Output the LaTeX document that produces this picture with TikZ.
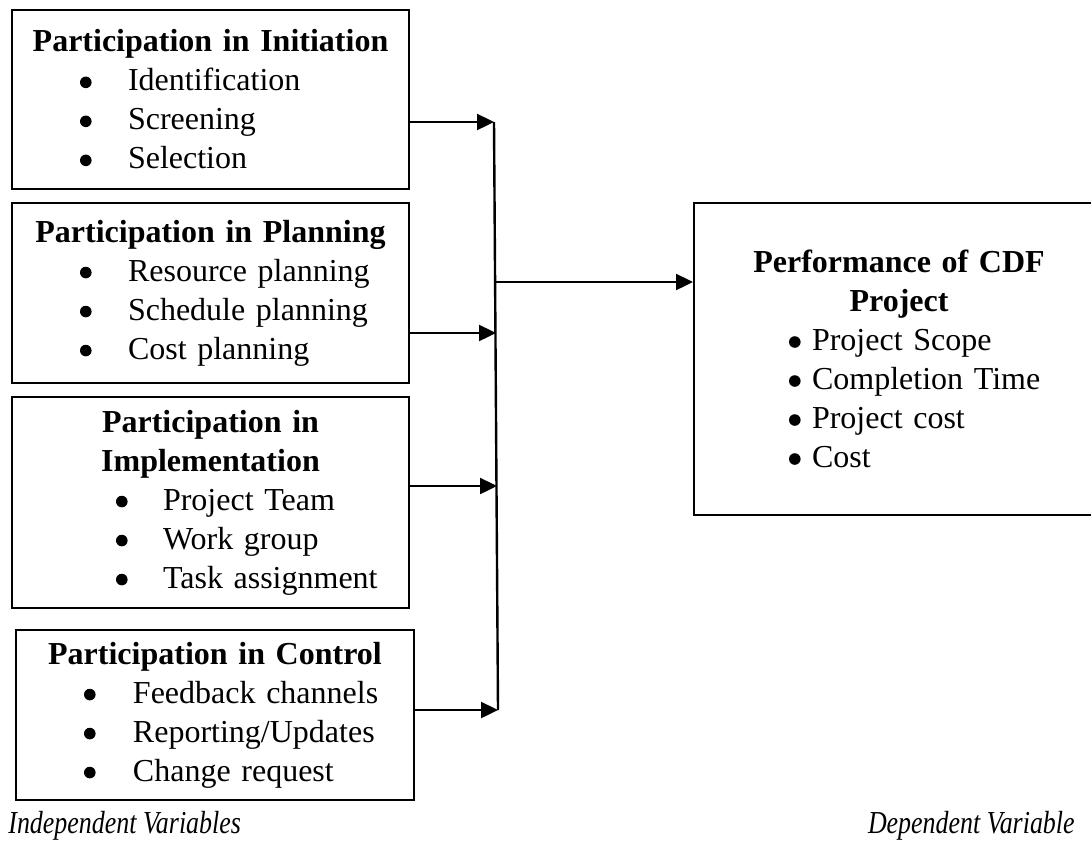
\documentclass[tikz,border=0pt]{standalone}
\usepackage{fontspec}
\setmainfont{Liberation Serif}
\usetikzlibrary{arrows.meta}

% heading line and bullet line inside a box
\newcommand{\headline}[1]{\makebox[\hsize][c]{\textbf{#1}}}
\newcommand{\bigdot}{\tikz[baseline=0pt]\fill (2.9pt,4.3pt) circle (2.9pt);}
\newcommand{\bitem}[3]{\hspace*{#1}\makebox[#2][l]{\bigdot}#3}

\begin{document}
\begin{tikzpicture}[x=0.5pt, y=-0.5pt,
    panel/.style={draw, line width=1pt, inner sep=0pt, align=left,
      font=\fontsize{16}{19.5}\selectfont},
    link/.style={line width=1.2pt},
    arr/.style={link, -{Triangle[length=8.5pt, width=8pt]}},
    note/.style={inner sep=0pt, font=\fontsize{16}{19.5}\selectfont\itshape}]

    % Fix the page
    \useasboundingbox (0,0) rectangle (1091,857);
    \clip (0,0) rectangle (1091,857);

    % Independent variables
    \node[panel, text width=198.5pt, minimum height=89.5pt] (init) at (210.5,99.5) {%
      \headline{Participation in Initiation}\\
      \bitem{34pt}{24pt}{Identification}\\
      \bitem{34pt}{24pt}{Screening}\\
      \bitem{34pt}{24pt}{Selection}};
    \node[panel, text width=198.5pt, minimum height=90pt] (plan) at (210.5,293) {%
      \headline{Participation in Planning}\\
      \bitem{34pt}{24pt}{Resource planning}\\
      \bitem{34pt}{24pt}{Schedule planning}\\
      \bitem{34pt}{24pt}{Cost planning}};
    \node[panel, text width=198.5pt, minimum height=105.5pt] (impl) at (210.5,502.5) {%
      \headline{Participation in}\\
      \headline{Implementation}\\
      \bitem{52pt}{23.5pt}{Project Team}\\
      \bitem{52pt}{23.5pt}{Work group}\\
      \bitem{52pt}{23.5pt}{Task assignment}};
    \node[panel, text width=199pt, minimum height=85pt] (ctrl) at (215,715) {%
      \headline{Participation in Control}\\
      \bitem{34pt}{24.5pt}{Feedback channels}\\
      \bitem{34pt}{24.5pt}{Reporting/Updates}\\
      \bitem{34pt}{24.5pt}{Change request}};

    % Dependent variable
    \node[panel, text width=205pt, minimum height=156pt] (perf) at (899,359) {%
      \headline{Performance of CDF}\\
      \headline{Project}\\
      \bitem{47.5pt}{11.5pt}{Project Scope}\\
      \bitem{47.5pt}{11.5pt}{Completion Time}\\
      \bitem{47.5pt}{11.5pt}{Project cost}\\
      \bitem{47.5pt}{11.5pt}{Cost}};

    % Joining line
    \coordinate (jtop) at (494,122);
    \coordinate (jplan) at (496,333);
    \coordinate (jmain) at (496,282);
    \coordinate (jimpl) at (497,486);
    \coordinate (jbot) at (498,710);
    \draw[link] (jtop) -- (jbot);

    % Arrows
    \draw[arr] (init.east |- jtop) -- (jtop);
    \draw[arr] (plan.east |- jplan) -- (jplan);
    \draw[arr] (impl.east |- jimpl) -- (jimpl);
    \draw[arr] (ctrl.east |- jbot) -- (jbot);
    \draw[arr] (jmain) -- (perf.west |- jmain);

    % Captions
    \node[note, anchor=base west] (indep) at (8,833) {\scalebox{0.81}[1]{Independent Variables}};
    \node[note, anchor=base east] (dep) at (1075,833) {\scalebox{0.81}[1]{Dependent Variable}};
\end{tikzpicture}
\end{document}
